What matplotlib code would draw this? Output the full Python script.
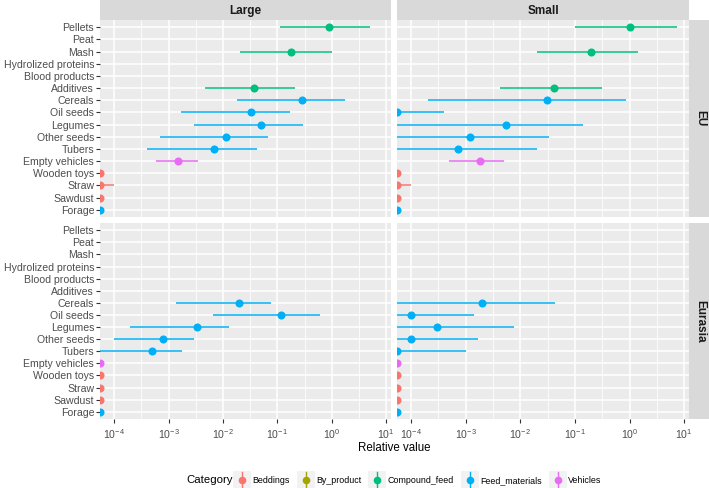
import numpy as np
import matplotlib
matplotlib.use("Agg")
import matplotlib.pyplot as plt
from matplotlib.lines import Line2D
from matplotlib.patches import Rectangle
from matplotlib.legend_handler import HandlerBase
from matplotlib.ticker import FixedLocator, LogFormatterSciNotation, NullFormatter

plt.rcParams['font.family'] = ['Liberation Sans', 'DejaVu Sans']
plt.rcParams['mathtext.default'] = 'regular'

nan = np.nan

items = ["Pellets", "Peat", "Mash", "Hydrolized proteins", "Blood products",
         "Additives", "Cereals", "Oil seeds", "Legumes", "Other seeds", "Tubers",
         "Empty vehicles", "Wooden toys", "Straw", "Sawdust", "Forage"]
item_cat = ["Compound_feed", "Beddings", "Compound_feed", "By_product", "By_product",
            "Compound_feed", "Feed_materials", "Feed_materials", "Feed_materials",
            "Feed_materials", "Feed_materials", "Vehicles", "Beddings", "Beddings",
            "Beddings", "Feed_materials"]

categories = ["Beddings", "By_product", "Compound_feed", "Feed_materials", "Vehicles"]
cat_colors = ["#F8766D", "#A3A500", "#00BF7D", "#00B0F6", "#E76BF3"]

sizes = ["Large", "Small"]
regions = ["EU", "Eurasia"]

# EU / Large
eu_large_val = [0.9, nan, 0.18, nan, nan, 0.038, 0.29, 0.033, 0.051, 0.0113, 0.0069, 0.00147, 0, 0, 0, 0]
eu_large_lo = [0.11, nan, 0.021, nan, nan, 0.0046, 0.018, 0.0017, 0.003, 0.00069, 0.0004, 0.0006, 0, 0, 0, 0]
eu_large_hi = [5.0, nan, 1.0, nan, nan, 0.21, 1.75, 0.17, 0.30, 0.068, 0.042, 0.0035, 0, 1e-4, 0, 0]

# EU / Small
eu_small_val = [1.0, nan, 0.197, nan, nan, 0.042, 0.031, 0, 0.0054, 0.0012, 0.00071, 0.0018, 0, 0, 0, 0]
eu_small_lo = [0.1, nan, 0.02, nan, nan, 0.0042, 0.0002, 0, 0, 0, 0, 0.0005, 0, 0, 0, 0]
eu_small_hi = [7.3, nan, 1.46, nan, nan, 0.31, 0.85, 0.0004, 0.14, 0.033, 0.02, 0.005, 0, 1e-4, 0, 0]

# Eurasia / Large
ea_large_val = [nan, nan, nan, nan, nan, nan, 0.0197, 0.117, 0.0034, 0.00078, 0.00049, 0, 0, 0, 0, 0]
ea_large_lo = [nan, nan, nan, nan, nan, nan, 0.00136, 0.0066, 0.000196, 0.0001, 0, 0, 0, 0, 0, 0]
ea_large_hi = [nan, nan, nan, nan, nan, nan, 0.078, 0.62, 0.0128, 0.0029, 0.0018, 0, 0, 0, 0, 0]

# Eurasia / Small
ea_small_val = [nan, nan, nan, nan, nan, nan, 0.00197, 0.0001, 0.0003, 0.0001, 0, 0, 0, 0, 0, 0]
ea_small_lo = [nan, nan, nan, nan, nan, nan, 0, 0, 0, 0, 0, 0, 0, 0, 0, 0]
ea_small_hi = [nan, nan, nan, nan, nan, nan, 0.0436, 0.00139, 0.0075, 0.0017, 0.001, 0, 0, 0, 0, 0]

panel_data = {
    ("EU", "Large"): (eu_large_val, eu_large_lo, eu_large_hi),
    ("EU", "Small"): (eu_small_val, eu_small_lo, eu_small_hi),
    ("Eurasia", "Large"): (ea_large_val, ea_large_lo, ea_large_hi),
    ("Eurasia", "Small"): (ea_small_val, ea_small_lo, ea_small_hi),
}

W, H = 709, 488
XMIN, XMAX = 10 ** -4.26, 10 ** 1.09
TXT = "#4D4D4D"


def box(x0, y0, x1, y1):
    return [x0 / W, 1 - y1 / H, (x1 - x0) / W, (y1 - y0) / H]


col_px = {"Large": (100, 391), "Small": (397, 689)}
row_px = {"EU": (20, 217), "Eurasia": (223, 419)}

fig = plt.figure(figsize=(W / 100, H / 100), dpi=100)

color_of = dict(zip(categories, cat_colors))
ypos = np.arange(len(items))

for region in regions:
    for size in sizes:
        x0, x1 = col_px[size]
        y0, y1 = row_px[region]
        ax = fig.add_axes(box(x0, y0, x1, y1))
        ax.set_facecolor("#EBEBEB")
        for s in ax.spines.values():
            s.set_visible(False)
        ax.set_xscale("log")
        ax.set_xlim(XMIN, XMAX)
        ax.set_ylim(len(items) - 0.4, -0.6)

        ax.xaxis.set_major_locator(FixedLocator(10.0 ** np.arange(-4, 2)))
        ax.xaxis.set_minor_locator(FixedLocator(10.0 ** (np.arange(-5, 2) + 0.5)))
        ax.xaxis.set_minor_formatter(NullFormatter())
        ax.set_yticks(ypos)
        ax.grid(True, which="major", color="white", lw=1.1)
        ax.grid(True, which="minor", axis="x", color="white", lw=0.55)
        ax.set_axisbelow(True)
        ax.tick_params(which="minor", length=0)
        ax.tick_params(which="major", length=2.7, width=0.8, color="#333333",
                       labelsize=7.6, labelcolor=TXT, pad=1.5)
        ax.tick_params(axis="x", pad=3.2)

        if size == "Large":
            ax.set_yticklabels(items)
        else:
            ax.tick_params(axis="y", length=0, labelleft=False)
        if region == "Eurasia":
            ax.xaxis.set_major_formatter(LogFormatterSciNotation())
        else:
            ax.tick_params(axis="x", length=0, labelbottom=False)

        val, lo, hi = [np.array(a, dtype=float) for a in panel_data[(region, size)]]
        # zeros fall off the log scale -> pin to the panel edge like ggplot does
        v = np.maximum(val, XMIN)
        l = np.maximum(lo, XMIN)
        h = np.maximum(hi, XMIN)
        cols = [color_of[c] for c in item_cat]
        for i in range(len(items)):
            if np.isnan(val[i]):
                continue
            if h[i] > l[i]:
                ax.hlines(ypos[i], l[i], h[i], color=cols[i], lw=1.1, zorder=2)
            ax.plot(v[i], ypos[i], "o", color=cols[i], ms=5.8, mec="none", zorder=3)

# top strips
for size in sizes:
    x0, x1 = col_px[size]
    sax = fig.add_axes(box(x0, 0, x1, 20))
    sax.set_facecolor("#D9D9D9")
    sax.set_xticks([]); sax.set_yticks([])
    for s in sax.spines.values():
        s.set_visible(False)
    sax.text(0.5, 0.45, size, ha="center", va="center", fontsize=8.5,
             fontweight="bold", color="#1A1A1A", transform=sax.transAxes)

# right strips
for region in regions:
    y0, y1 = row_px[region]
    sax = fig.add_axes(box(689, y0, 709, y1))
    sax.set_facecolor("#D9D9D9")
    sax.set_xticks([]); sax.set_yticks([])
    for s in sax.spines.values():
        s.set_visible(False)
    sax.text(0.55, 0.5, region, ha="center", va="center", fontsize=8.5,
             fontweight="bold", color="#1A1A1A", rotation=-90, transform=sax.transAxes)

fig.text(394.5 / W, 1 - 448 / H, "Relative value", ha="center", va="center",
         fontsize=8.3, color="black")


class PointRangeHandler(HandlerBase):
    def create_artists(self, legend, orig_handle, xdescent, ydescent,
                       width, height, fontsize, trans):
        c = orig_handle.get_color()
        cx = width / 2 - xdescent
        cy = height / 2 - ydescent
        s = 13
        bg = Rectangle((cx - s / 2, cy - s / 2), s, s, facecolor="#F2F2F2",
                       edgecolor="none", transform=trans)
        ln = Line2D([cx, cx], [cy - s / 2 + 1, cy + s / 2 - 1], color=c, lw=1.0,
                    transform=trans)
        dot = Line2D([cx], [cy], marker="o", ms=5.5, color=c, mec="none",
                     linestyle="none", transform=trans)
        return [bg, ln, dot]


handles = [Line2D([], [], color=c) for c in cat_colors]
fig.text(186 / W, 1 - 480 / H, "Category", ha="left", va="center", fontsize=8.2,
         color="black")
fig.legend(handles, categories, loc="center left",
           bbox_to_anchor=(236 / W, 1 - 480 / H), ncol=5, frameon=False,
           fontsize=6.4, handler_map={Line2D: PointRangeHandler()},
           handlelength=1.4, handleheight=1.3, handletextpad=0.45,
           columnspacing=1.1, borderpad=0, borderaxespad=0)

fig.savefig("out.png", dpi=100)
